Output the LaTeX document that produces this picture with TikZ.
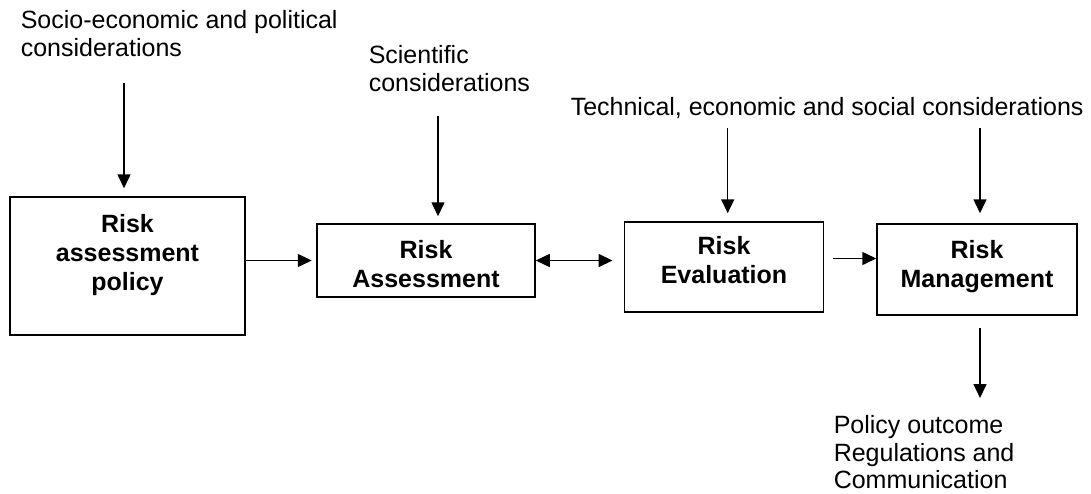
\documentclass[tikz,border=0pt]{standalone}
\usepackage{fontspec}
\setmainfont{Liberation Sans}
\usetikzlibrary{arrows.meta}

\begin{document}
\begin{tikzpicture}[x=1pt, y=-1pt, line width=1.5pt,
    box/.style = {draw, line width=1.5pt, inner sep=0pt},
    boxtext/.style = {anchor=north, align=center, inner sep=0pt, font=\fontsize{25}{29}\selectfont\bfseries},
    note/.style = {anchor=north west, align=left, inner sep=0pt, font=\fontsize{25}{27.5}\selectfont},
    arr/.style = {-{Triangle[width=13pt,length=14pt]}},
    darr/.style = {{Triangle[width=13pt,length=14pt]}-{Triangle[width=13pt,length=14pt]}}]
    \useasboundingbox (0,0) rectangle (1091,493);

    % Boxes
    \node[box, minimum width=235pt, minimum height=138pt] (pol) at (127.5,266) {};
    \node[box, minimum width=218pt, minimum height=73pt] (ass) at (426,260.5) {};
    \node[box, minimum width=199pt, minimum height=90pt] (eva) at (723.8,267) {};
    \node[box, minimum width=200pt, minimum height=91pt] (man) at (977,269.5) {};

    %box labels
    \node[boxtext] (polt) at (127.5,213.7) {Risk\\assessment\\policy};
    \node[boxtext] (asst) at (426,240) {Risk\\Assessment};
    \node[boxtext] (evat) at (724,236) {Risk\\Evaluation};
    \node[boxtext] (mant) at (977,240) {Risk\\Management};

    %considerations
    \node[note] (socio) at (20,10) {Socio-economic and political\\considerations};
    \node[note] (sci) at (368,45) {Scientific\\considerations};
    \node[note] (tech) at (570,97) {Technical, economic and social considerations};
    \node[note] (out) at (833,415) {Policy outcome\\Regulations and\\Communication};

    % Arrow tops
    \coordinate (s1) at (124,83);
    \coordinate (s2) at (438,116);
    \coordinate (s3) at (727.7,128);
    \coordinate (s4) at (980,128);
    \coordinate (r1) at (980,398);

    % Arrows into the boxes
    \draw[arr, shorten >=8pt] (s1) -- (s1 |- pol.north);
    \draw[arr, shorten >=7pt] (s2) -- (s2 |- ass.north);
    \draw[arr, shorten >=8pt] (s3) -- (s3 |- eva.north);
    \draw[arr, shorten >=10pt] (s4) -- (s4 |- man.north);

    % Arrows between the boxes
    \draw[arr, shorten >=4.5pt] (pol.east |- ass.west) -- (ass.west);
    \draw[darr, shorten >=11pt] (ass.east) -- (ass.east -| eva.west);
    \draw[arr, shorten <=9pt] ([yshift=2pt]eva.east |- ass.east) -- ([yshift=2pt]man.west |- ass.east);

    % Outcome
    \draw[arr, shorten <=12pt] (r1 |- man.south) -- (r1);

\end{tikzpicture}
\end{document}
